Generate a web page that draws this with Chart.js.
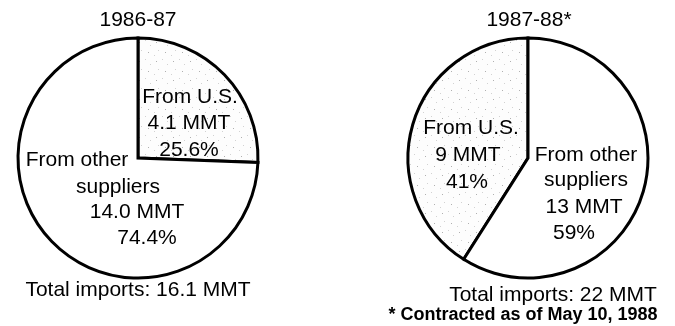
<!DOCTYPE html>
<html>
<head>
<meta charset="utf-8">
<script src="https://cdn.jsdelivr.net/npm/chart.js@4/dist/chart.umd.min.js"></script>
<style>
  html, body { margin: 0; padding: 0; background: #fff; }
  #wrap { position: relative; width: 675px; height: 326px; overflow: hidden; }
  canvas { position: absolute; top: 0; }
  #c1 { left: 0; }
  #c2 { left: 337px; }
</style>
</head>
<body>
<div id="wrap">
  <canvas id="c1" width="337" height="326"></canvas>
  <canvas id="c2" width="338" height="326"></canvas>
</div>
<script>
// Wheat imports by source
const categories = ["From U.S.", "From other suppliers"];
const periods = ["1986-87", "1987-88*"];
const shares8687 = [25.6, 74.4];      // percent
const volumes8687 = ["4.1", "14.0"];  // million metric tons
const total8687 = "16.1";
const shares8788 = [41, 59];
const volumes8788 = ["9", "13"];
const total8788 = "22";
const footnote = "* Contracted as of May 10, 1988";

const FONT = '"Liberation Sans", Arial, Helvetica, sans-serif';

// light, sparse stippled fill for the U.S. share
function stipple() {
  const c = document.createElement('canvas');
  c.width = 17; c.height = 19;
  const g = c.getContext('2d');
  g.fillStyle = '#fdfdfd';
  g.fillRect(0, 0, 17, 19);
  g.fillStyle = '#b0b0b0';
  g.fillRect(3, 4, 1, 1);
  g.fillRect(12, 14, 1, 1);
  g.fillStyle = '#d2d2d2';
  g.fillRect(9, 2, 1, 1);
  g.fillRect(5, 12, 1, 1);
  g.fillRect(14, 7, 1, 1);
  g.fillRect(1, 17, 1, 1);
  return g.createPattern(c, 'repeat');
}
const usFill = stipple();

// text drawn around each pie: lines offset from the pie centre
const textPlugin = {
  id: 'pieText',
  afterDraw(chart, args, opts) {
    const arc = chart.getDatasetMeta(0).data[0];
    const cx = arc.x, cy = arc.y;
    const ctx = chart.ctx;
    ctx.save();
    ctx.fillStyle = '#000';
    ctx.textAlign = 'center';
    ctx.textBaseline = 'middle';
    opts.items.forEach(it => {
      ctx.font = (it.bold ? 'bold ' : '') + it.size + 'px ' + FONT;
      ctx.fillText(it.text, cx + it.dx, cy + it.dy);
    });
    ctx.restore();
  }
};

function makePie(id, shares, rotation, pad, items) {
  const fills = [usFill, '#ffffff'];
  return new Chart(document.getElementById(id), {
    type: 'pie',
    data: {
      labels: categories,
      datasets: [{
        data: shares,
        backgroundColor: fills,
        borderColor: '#000',
        borderWidth: 3,
        borderJoinStyle: 'miter',
        hoverOffset: 0
      }]
    },
    options: {
      responsive: false,
      devicePixelRatio: 1,
      animation: false,
      radius: 120,
      rotation: rotation,
      layout: { padding: pad },
      events: [],
      plugins: {
        legend: { display: false },
        tooltip: { enabled: false },
        title: { display: false },
        pieText: { items: items }
      }
    },
    plugins: [textPlugin]
  });
}

const S = 21;

// 1986-87: U.S. share runs clockwise from 12 o'clock
makePie('c1', shares8687, 0, { left: 18, right: 79, top: 38, bottom: 48 }, [
  { text: periods[0], dx: 0, dy: -138, size: S },
  { text: 'From U.S.', dx: 52, dy: -61, size: S },
  { text: volumes8687[0] + ' MMT', dx: 51, dy: -35, size: S },
  { text: shares8687[0].toFixed(1) + '%', dx: 51, dy: -8, size: S },
  { text: 'From other', dx: -61, dy: 2, size: S },
  { text: 'suppliers', dx: -20, dy: 29, size: S },
  { text: volumes8687[1] + ' MMT', dx: -1, dy: 54, size: S },
  { text: shares8687[1].toFixed(1) + '%', dx: 9, dy: 80, size: S },
  { text: 'Total imports: ' + total8687 + ' MMT', dx: 0, dy: 132, size: S }
]);

// 1987-88: U.S. share sits counter-clockwise from 12 o'clock
makePie('c2', shares8788, -shares8788[0] / 100 * 360, { left: 71, right: 27, top: 38, bottom: 48 }, [
  { text: periods[1], dx: 1, dy: -138, size: S },
  { text: 'From U.S.', dx: -57, dy: -30, size: S },
  { text: volumes8788[0] + ' MMT', dx: -60, dy: -3, size: S },
  { text: shares8788[0] + '%', dx: -61, dy: 24, size: S },
  { text: 'From other', dx: 58, dy: -3, size: S },
  { text: 'suppliers', dx: 58, dy: 22, size: S },
  { text: volumes8788[1] + ' MMT', dx: 56, dy: 49, size: S },
  { text: shares8788[1] + '%', dx: 46, dy: 75, size: S },
  { text: 'Total imports: ' + total8788 + ' MMT', dx: 25, dy: 137, size: S },
  { text: footnote, dx: -5, dy: 157, size: 18, bold: true }
]);
</script>
</body>
</html>
